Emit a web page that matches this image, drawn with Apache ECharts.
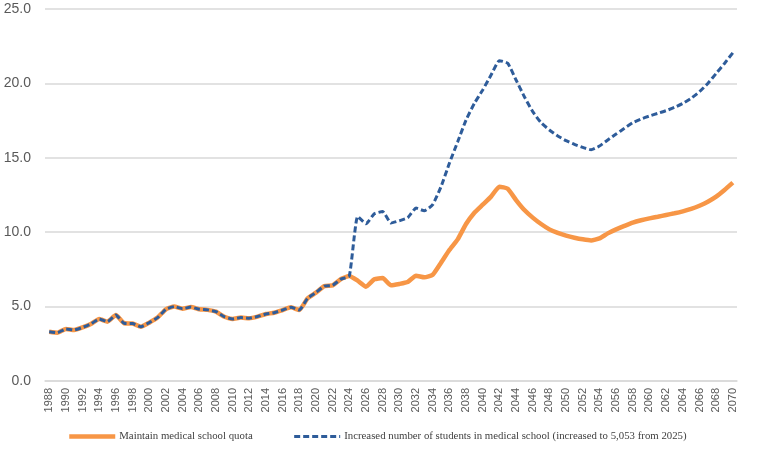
<!DOCTYPE html>
<html>
<head>
<meta charset="utf-8">
<script src="https://cdn.jsdelivr.net/npm/echarts@6/dist/echarts.min.js"></script>
<style>
	html, body { margin: 0; padding: 0; background: #fff; }
	#chart { width: 767px; height: 465px; }
</style>
</head>
<body>
<div id="chart"></div>
<script>
"use strict";

var years = [];
for (var y = 1988; y <= 2070; y++) {
	years.push(String(y));
}

// 1988 - 2024 shared by both series
var pastValues = [
	3.31, 3.25, 3.5, 3.43, 3.6, 3.83, 4.17, 3.99, 4.43, 3.88,
	3.86, 3.65, 3.92, 4.26, 4.82, 5.0, 4.86, 4.97, 4.82, 4.78,
	4.66, 4.32, 4.17, 4.26, 4.22, 4.33, 4.5, 4.59, 4.77, 4.95,
	4.77, 5.56, 5.94, 6.38, 6.43, 6.85, 7.06
];

// 2025 - 2070
var quotaFuture = [
	6.74, 6.34, 6.83, 6.92, 6.43, 6.52, 6.65, 7.08, 6.97, 7.14,
	7.95, 8.8, 9.52, 10.55, 11.31, 11.85, 12.39, 13.06, 12.92, 12.16,
	11.49, 10.98, 10.55, 10.19, 9.95, 9.77, 9.63, 9.52, 9.45, 9.58,
	9.92, 10.19, 10.42, 10.64, 10.8, 10.93, 11.04, 11.16, 11.27, 11.4,
	11.56, 11.78, 12.05, 12.39, 12.84, 13.33
];

var increasedFuture = [
	11.06, 10.57, 11.24, 11.39, 10.62, 10.77, 10.97, 11.62, 11.44, 11.85,
	13.06, 14.63, 16.08, 17.54, 18.66, 19.56, 20.56, 21.53, 21.35, 20.23,
	19.1, 18.1, 17.36, 16.87, 16.47, 16.15, 15.9, 15.7, 15.54, 15.79,
	16.2, 16.6, 16.98, 17.36, 17.61, 17.81, 17.99, 18.17, 18.39, 18.66,
	19.0, 19.44, 20.0, 20.67, 21.34, 22.06
];

var quotaValues = pastValues.concat(quotaFuture);
var increasedValues = pastValues.concat(increasedFuture);

var yTicks = [0, 5, 10, 15, 20, 25];

var chart = echarts.init(document.getElementById('chart'));

chart.setOption({
	animation: false,
	grid: {
		left: 45,
		right: 30,
		top: 9,
		bottom: 84
	},
	legend: {
		left: 67,
		top: 431,
		padding: 0,
		itemWidth: 46,
		itemHeight: 10,
		itemGap: 40,
		itemStyle: { opacity: 0 },
		lineStyle: { width: 'inherit' },
		textStyle: {
			fontFamily: 'Liberation Serif',
			fontSize: 10.8,
			color: '#404040',
			padding: [0, 0, 0, -1]
		},
		data: [
			{ name: 'Maintain medical school quota' },
			{ name: 'Increased number of students in medical school (increased to 5,053 from 2025)' }
		]
	},
	xAxis: {
		type: 'category',
		boundaryGap: true,
		data: years,
		axisTick: { show: false },
		axisLine: { lineStyle: { color: '#d9d9d9', width: 1.5 } },
		axisLabel: {
			interval: 1,
			rotate: 90,
			fontSize: 11,
			color: '#595959',
			fontFamily: 'Liberation Sans',
			margin: 7
		}
	},
	yAxis: {
		type: 'value',
		min: yTicks[0],
		max: yTicks[yTicks.length - 1],
		interval: 5,
		axisLine: { show: false },
		axisTick: { show: false },
		splitLine: { lineStyle: { color: '#d9d9d9', width: 1.5 } },
		axisLabel: {
			fontSize: 14,
			color: '#595959',
			fontFamily: 'Liberation Sans',
			margin: 14,
			formatter: function(v) { return v.toFixed(1); }
		}
	},
	series: [{
		name: 'Maintain medical school quota',
		type: 'line',
		data: quotaValues,
		symbol: 'none',
		smooth: 0.15,
		itemStyle: { color: '#F79646' },
		lineStyle: { color: '#F79646', width: 4.5 }
	}, {
		name: 'Increased number of students in medical school (increased to 5,053 from 2025)',
		type: 'line',
		data: increasedValues,
		symbol: 'none',
		smooth: 0.15,
		itemStyle: { color: '#2E5C9A' },
		lineStyle: { color: '#2E5C9A', width: 3, type: [6, 3] }
	}]
});
</script>
</body>
</html>
